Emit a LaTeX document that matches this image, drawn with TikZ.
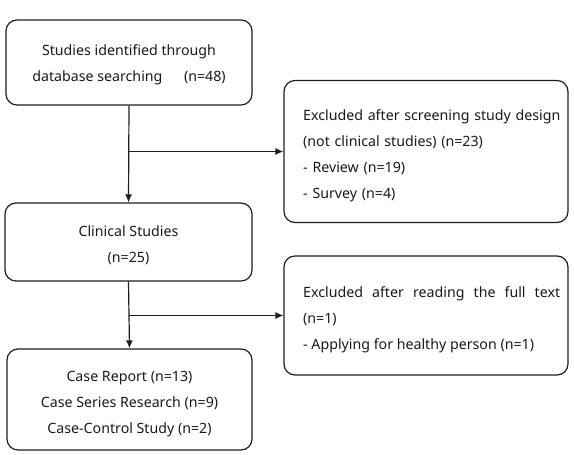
\documentclass[tikz,border=0pt]{standalone}
\usepackage{fontspec}
\setmainfont{Noto Sans}
\usetikzlibrary{arrows.meta}
\def\normaledge{1.2}
\definecolor{edgeblack}{rgb}{0.12,0.12,0.12}
\definecolor{textblack}{rgb}{0.1,0.1,0.1}

\begin{document}
\begin{tikzpicture}[x = 1pt, y = -1pt,
    box/.style = {draw=edgeblack, line width=\normaledge, rounded corners=11pt, inner sep=0pt},
    txt/.style = {text=textblack, font=\fontsize{14.2}{26}\selectfont, inner sep=0pt},
    flow/.style = {line width=\normaledge, color=edgeblack, -{Latex[length=8pt,width=7pt]}}]

            \useasboundingbox (0,0) rectangle (574,455);

            % left column
            \node [box, minimum width=246, minimum height=85] (ident) at (129,62.5){};
            \node [box, minimum width=247, minimum height=78] (clin) at (128.5,242){};
            \node [box, minimum width=245, minimum height=101] (incl) at (129.5,399.5){};

            % right column
            \node [box, minimum width=284, minimum height=142] (excla) at (426,151.5){};
            \node [box, minimum width=284, minimum height=119] (exclb) at (426,315.5){};

            % texts
            \node [txt, align=center] (identtxt) at ([yshift=-2.5]ident.center){Studies identified through\\database searching \quad\ (n=48)};
            \node [txt, align=center] (clintxt) at ([yshift=-3.5]clin.center){Clinical Studies\\(n=25)};
            \node [txt, align=center] (incltxt) at ([yshift=-4.5]incl.center){Case Report (n=13)\\Case Series Research (n=9)\\Case-Control Study (n=2)};
            \node [txt, anchor=west, text width=262, align=left] (exclatxt) at ([yshift=-4.5]excla.west -| 303,0){Excluded after screening study design\\(not clinical studies) (n=23)\\- Review (n=19)\\- Survey (n=4)};
            \node [txt, anchor=west, text width=257, align=justify] (exclbtxt) at ([yshift=-4]exclb.west -| 303,0){Excluded after reading the full text\linebreak (n=1)\\- Applying for healthy person (n=1)};

            % connectors
            \coordinate (bra) at (ident.south |- excla.west);
            \coordinate (brb) at (clin.south |- exclb.west);

            \draw [flow] (ident.south) -- (clin.north);
            \draw [flow] (bra) -- (excla.west);
            \draw [flow] (clin.south) -- (incl.north);
            \draw [flow] (brb) -- (exclb.west);

        \end{tikzpicture}
\end{document}
